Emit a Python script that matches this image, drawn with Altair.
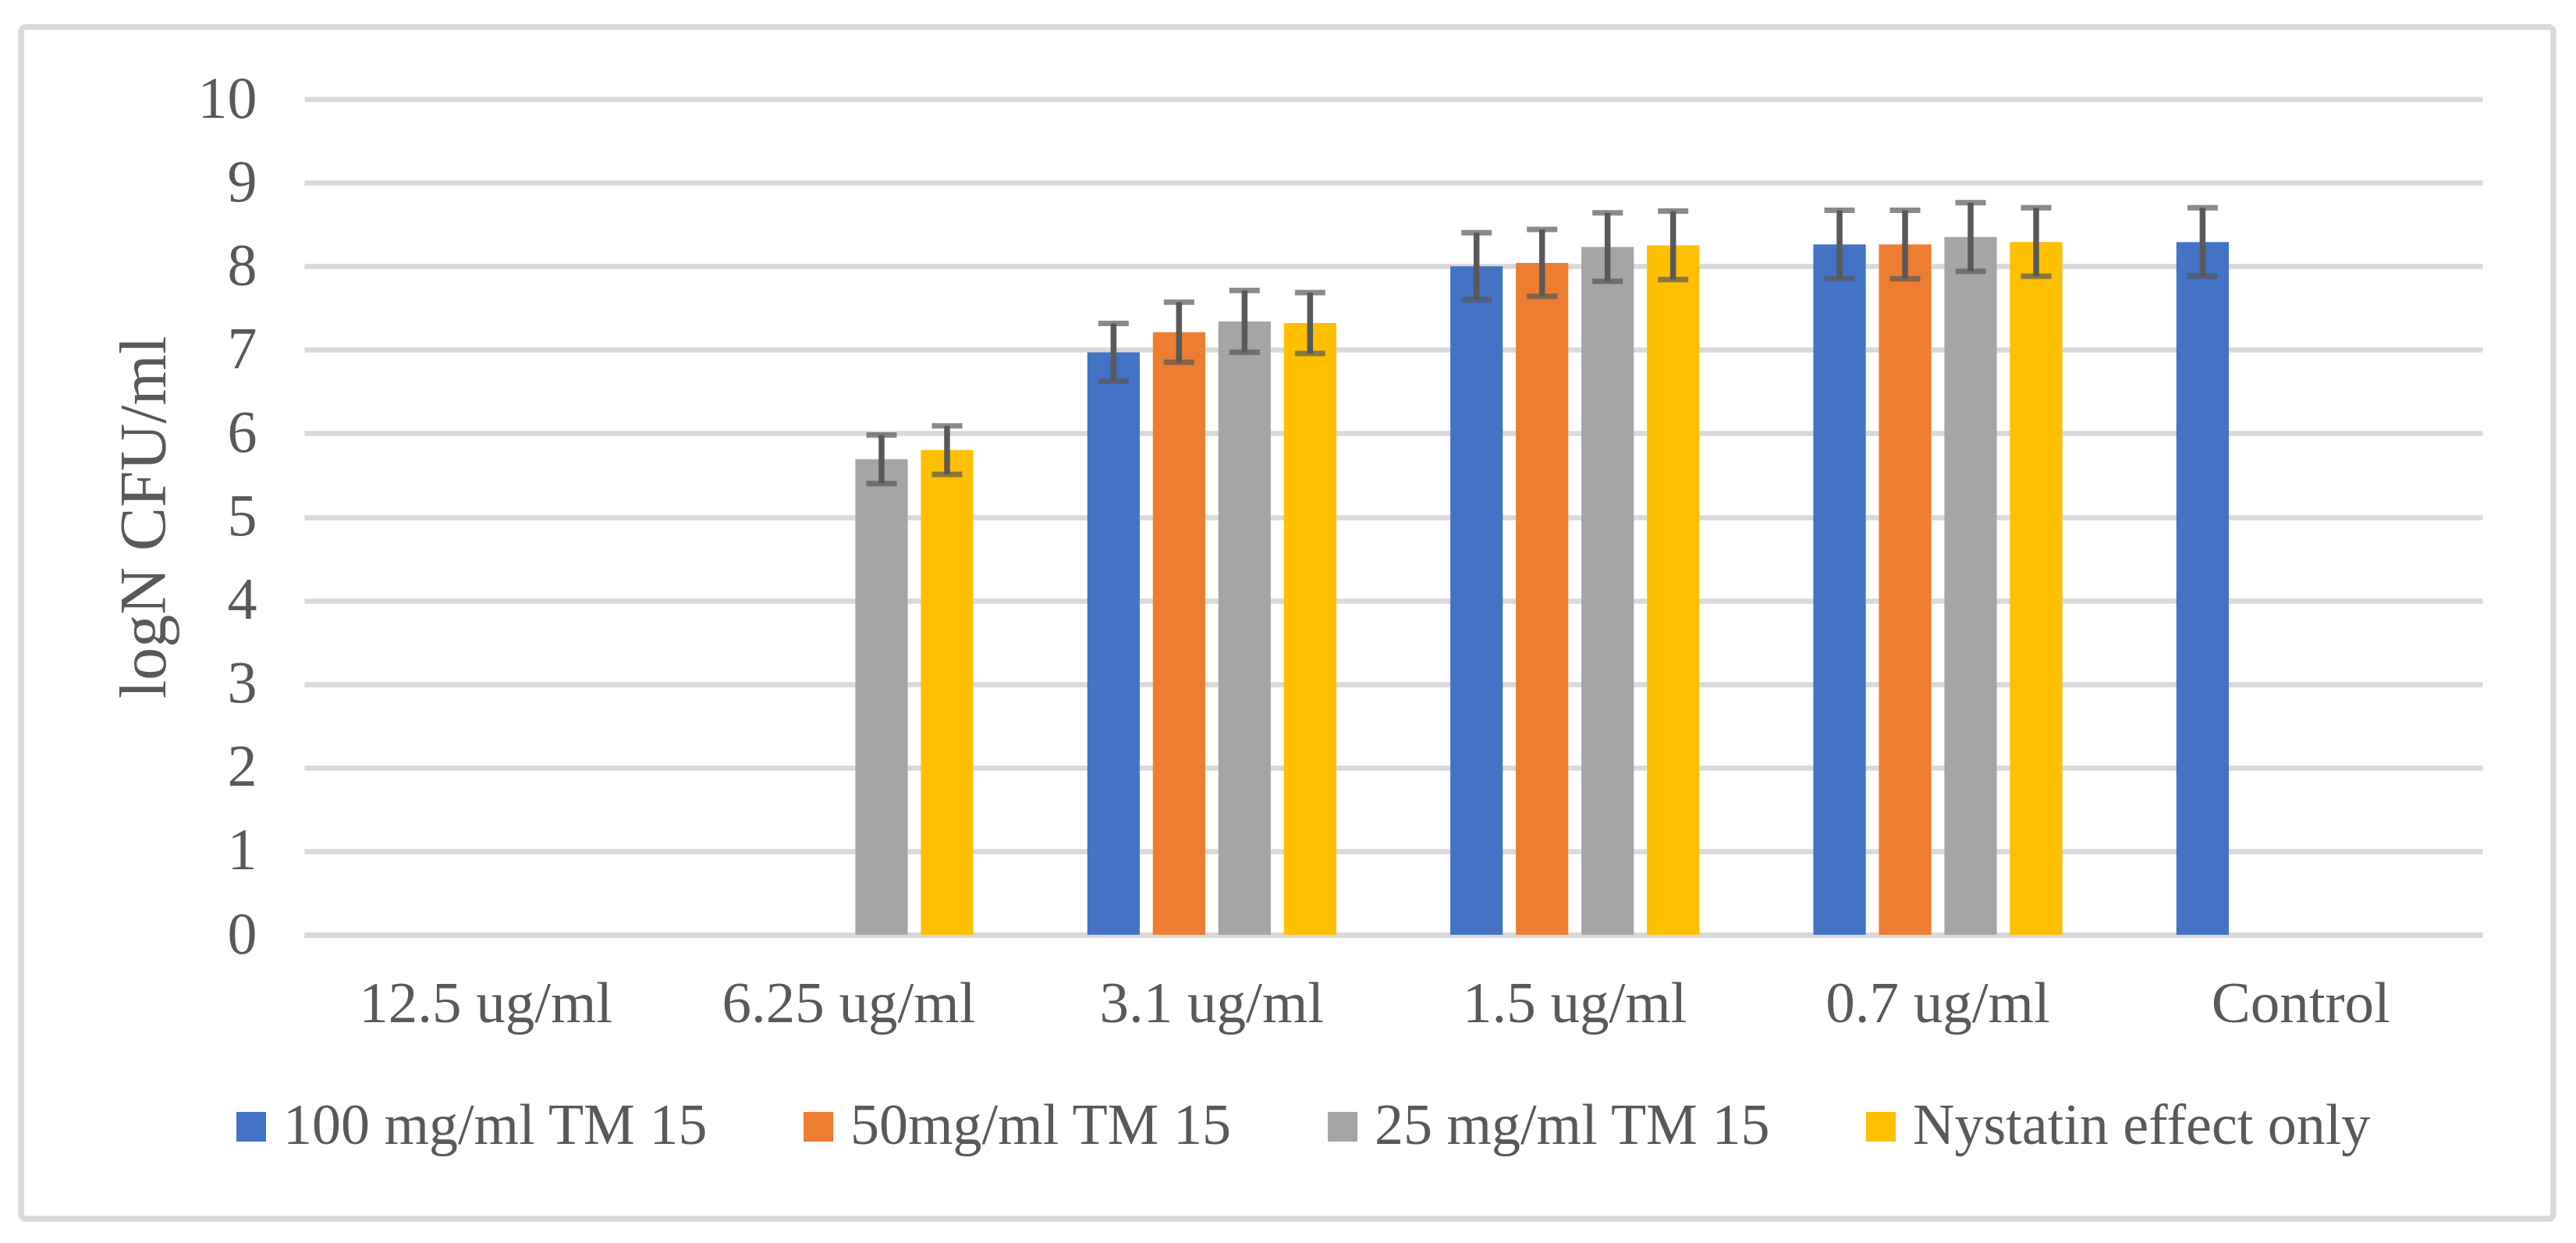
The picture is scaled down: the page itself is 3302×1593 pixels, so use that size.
import altair as alt
import pandas as pd

categories = ["12.5 ug/ml", "6.25 ug/ml", "3.1 ug/ml", "1.5 ug/ml", "0.7 ug/ml", "Control"]
series = ["100 mg/ml TM 15", "50mg/ml TM 15", "25 mg/ml TM 15", "Nystatin effect only"]
colors = ["#4472C4", "#ED7D31", "#A5A5A5", "#FFC000"]

# values per series across categories (None = no bar)
v_100 = [None, None, 6.97, 8.00, 8.26, 8.29]
v_50 = [None, None, 7.21, 8.04, 8.26, None]
v_25 = [None, 5.69, 7.34, 8.23, 8.35, None]
v_nys = [None, 5.80, 7.32, 8.25, 8.29, None]

e_100 = [None, None, 0.345, 0.40, 0.41, 0.41]
e_50 = [None, None, 0.36, 0.40, 0.41, None]
e_25 = [None, 0.29, 0.37, 0.41, 0.41, None]
e_nys = [None, 0.29, 0.365, 0.41, 0.41, None]

y_ticks = list(range(0, 11))

rows = []
for s, vals, errs in zip(series, [v_100, v_50, v_25, v_nys], [e_100, e_50, e_25, e_nys]):
    for c, v, e in zip(categories, vals, errs):
        if v is not None:
            rows.append({"cat": c, "series": s, "value": v, "lo": v - e, "hi": v + e})
df = pd.DataFrame(rows)

FONT = "Liberation Serif"
TXT = "#595959"
GRID = "#D9D9D9"
ERR = "#595959"

W, H = 2792, 1071

x_enc = alt.X(
    "cat:N",
    sort=categories,
    scale=alt.Scale(domain=categories, paddingInner=0.278, paddingOuter=0.139),
    axis=alt.Axis(
        title=None, labelAngle=0, ticks=False, tickSize=0, domain=True,
        domainColor=GRID, domainWidth=7, labelFont=FONT, labelFontSize=75,
        labelColor=TXT, labelPadding=111, labelBaseline="alphabetic", grid=False,
        labelLimit=0,
    ),
)
xo_enc = alt.XOffset(
    "series:N", sort=series,
    scale=alt.Scale(domain=series, paddingInner=0.2, paddingOuter=0.1),
)

base = alt.Chart(df)

bars = base.mark_bar().encode(
    x=x_enc,
    xOffset=xo_enc,
    y=alt.Y(
        "value:Q",
        scale=alt.Scale(domain=[0, 10], nice=False),
        axis=alt.Axis(
            values=y_ticks, format="d", title="logN CFU/ml", grid=True, gridColor=GRID,
            gridWidth=6.5, domain=False, ticks=False, tickSize=0,
            labelFont=FONT, labelFontSize=76, labelColor=TXT, labelPadding=61,
            titleFont=FONT, titleFontSize=84, titleColor=TXT, titleFontWeight="normal",
            titleX=-179, titleY=H / 2, titleBaseline="alphabetic", titleAngle=-90,
            titleAlign="center",
        ),
    ),
    color=alt.Color(
        "series:N", sort=series,
        scale=alt.Scale(domain=series, range=colors),
        legend=alt.Legend(
            title=None, orient="none", legendX=-105, legendY=1280,
            direction="horizontal", columns=4, labelFont=FONT, labelFontSize=74,
            labelColor=TXT, symbolType="square", symbolSize=1444,
            symbolStrokeWidth=0, labelOffset=4, columnPadding=104, padding=0,
            labelLimit=0,
        ),
    ),
)

rules = base.mark_rule(color=ERR, strokeWidth=7.5).encode(
    x=x_enc, xOffset=xo_enc, y="lo:Q", y2="hi:Q",
)
caps_hi = base.mark_tick(color=ERR, size=39, thickness=7, orient="horizontal").encode(
    x=x_enc, xOffset=xo_enc, y="hi:Q",
)
caps_lo = base.mark_tick(color=ERR, size=39, thickness=7, orient="horizontal").encode(
    x=x_enc, xOffset=xo_enc, y="lo:Q",
)

frame = alt.Chart(pd.DataFrame({"a": [0]})).mark_rect(
    fill=None, stroke=GRID, strokeWidth=7.5, cornerRadius=6
).encode(
    x=alt.value(-363), x2=alt.value(2883), y=alt.value(-92.5), y2=alt.value(1435),
)

chart = alt.layer(frame, bars, rules, caps_hi, caps_lo).properties(
    width=W, height=H,
    autosize=alt.AutoSizeParams(type="none"),
    padding={"left": 382, "top": 119, "right": 112, "bottom": 387},
    background="white",
).configure_view(stroke=None)

chart.save("out.html", embed_options={"renderer": "svg", "actions": False})
